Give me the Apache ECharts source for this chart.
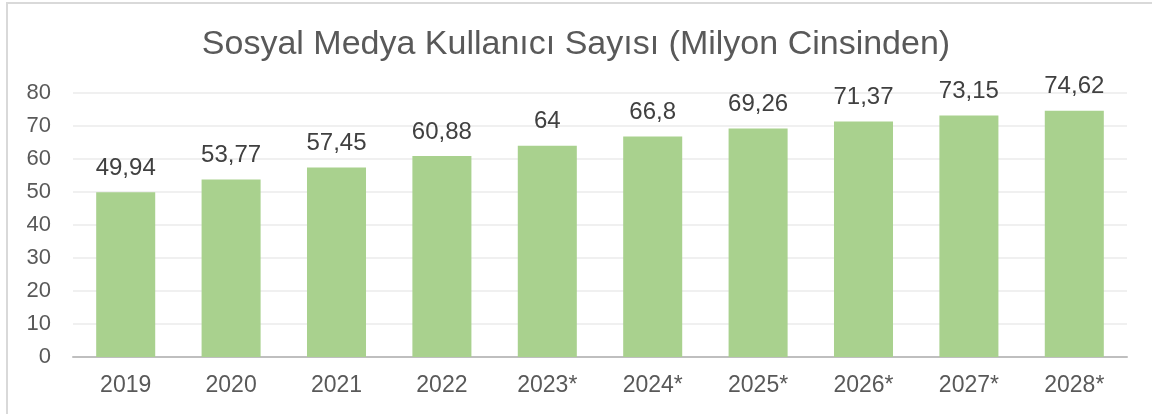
<!DOCTYPE html>
<html>
<head>
<meta charset="utf-8">
<script src="https://cdn.jsdelivr.net/npm/echarts@6/dist/echarts.min.js"></script>
<style>
  html, body { margin: 0; padding: 0; background: #fff; }
  .frame { position: absolute; left: 6px; top: 2px; width: 1160px; height: 430px; border: 2px solid #d9d9d9; box-sizing: border-box; }
  #chart { position: absolute; left: 0; top: 0; width: 1152px; height: 414px; }
</style>
</head>
<body>
<div class="frame"></div>
<div id="chart"></div>
<script>
const years = ['2019', '2020', '2021', '2022', '2023*', '2024*', '2025*', '2026*', '2027*', '2028*']
const users = [49.94, 53.77, 57.45, 60.88, 64, 66.8, 69.26, 71.37, 73.15, 74.62]
const titleText = 'Sosyal Medya Kullanıcı Sayısı (Milyon Cinsinden)'

const chart = echarts.init(document.getElementById('chart'))

const fmt = (v) => String(v).replace('.', ',')
const font = 'Liberation Sans, Arial, sans-serif'

chart.setOption({
  animation: false,
  textStyle: { fontFamily: font },
  title: {
    text: titleText,
    left: 'center',
    top: 23,
    textStyle: { color: '#595959', fontSize: 34, fontWeight: 'normal', fontFamily: font }
  },
  grid: { left: 73, right: 25, top: 93, bottom: 57 },
  xAxis: {
    type: 'category',
    data: years,
    axisTick: { show: false },
    axisLine: { lineStyle: { color: '#bfbfbf', width: 2 } },
    axisLabel: { color: '#595959', fontSize: 23, margin: 17 }
  },
  yAxis: {
    type: 'value',
    min: 0,
    max: 80,
    interval: 10,
    axisLine: { show: false },
    axisTick: { show: false },
    splitLine: { lineStyle: { color: '#ebebeb', width: 1.5 } },
    axisLabel: { color: '#595959', fontSize: 22, margin: 22 }
  },
  series: [{
    type: 'bar',
    data: users,
    barWidth: '56%',
    itemStyle: { color: '#a9d18e' },
    label: {
      show: true,
      position: 'top',
      distance: 12,
      color: '#404040',
      fontSize: 24,
      formatter: (p) => fmt(p.value)
    }
  }]
})
</script>
</body>
</html>
